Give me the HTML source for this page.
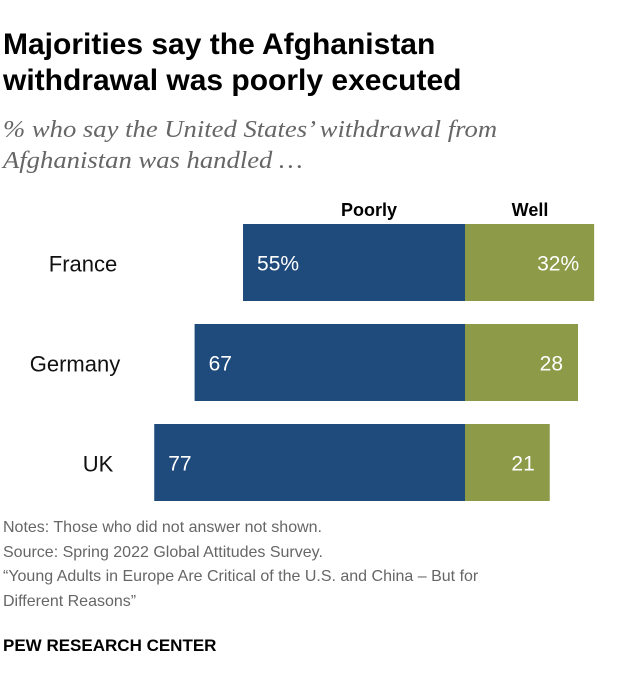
<!DOCTYPE html>
<html><head><meta charset="utf-8"><style>
body{margin:0;background:#fff;font-family:"Liberation Sans",sans-serif;}
#wrap{position:relative;width:620px;height:688px;overflow:hidden;}
.t{position:absolute;white-space:nowrap;}
</style></head><body>
<div id="wrap">
<div class="t" style="left:3px;top:27px;font-size:30px;font-weight:bold;line-height:36px;color:#000;">Majorities say the Afghanistan<br>withdrawal was poorly executed</div>
<div class="t" style="left:3px;top:115px;font-size:24px;font-style:italic;font-family:'Liberation Serif',serif;line-height:31px;color:#666;transform:scaleX(1.11);transform-origin:0 0;">% who say the United States’ withdrawal from<br>Afghanistan was handled …</div>
<svg id="chart" width="620" height="688" style="position:absolute;left:0;top:0"></svg>
<div class="t" style="left:3px;top:516px;font-size:16px;line-height:24.5px;color:#666;">Notes: Those who did not answer not shown.<br>Source: Spring 2022 Global Attitudes Survey.<br>“Young Adults in Europe Are Critical of the U.S. and China – But for<br>Different Reasons”</div>
<div class="t" style="left:3px;top:636px;font-size:17px;font-weight:bold;color:#000;">PEW RESEARCH CENTER</div>
</div>
<script>
const categories=["France","Germany","UK"];
const poorly=[55,67,77];
const well=[32,28,21];
const poorlyLabels=["55%","67","77"];
const wellLabels=["32%","28","21"];
const NS="http://www.w3.org/2000/svg";
const svg=document.getElementById('chart');
const cx=465, scale=4.036, top0=224, step=100, bh=77;
const labelCenters=[83,75,98];
const x=v=>v*scale;
function el(t,a,txt){const e=document.createElementNS(NS,t);for(const k in a)e.setAttribute(k,a[k]);if(txt!==undefined)e.textContent=txt;svg.appendChild(e);return e;}
let h=el('text',{x:369,y:216,'text-anchor':'middle','font-size':18,'font-weight':'bold','font-family':'Liberation Sans'},'Poorly');


h=el('text',{x:530,y:216,'text-anchor':'middle','font-size':18,'font-weight':'bold','font-family':'Liberation Sans'},'Well');


categories.forEach((c,i)=>{
 const y=top0+i*step;
 let r=el('rect',{x:cx-x(poorly[i]),y:y,width:x(poorly[i]),height:bh,fill:'#1f4a7c'});
 
 
 r=el('rect',{x:cx,y:y,width:x(well[i]),height:bh,fill:'#8d9a47'});
 
 
 let t=el('text',{x:cx-x(poorly[i])+14,y:y+bh/2+8,fill:'#fff','font-size':21,'font-family':'Liberation Sans'},poorlyLabels[i]);
 
 
 t=el('text',{x:cx+x(well[i])-15,y:y+bh/2+8,fill:'#fff','text-anchor':'end','font-size':21,'font-family':'Liberation Sans'},wellLabels[i]);
 
 
 t=el('text',{x:labelCenters[i],y:y+bh/2+9,'text-anchor':'middle','font-size':22,fill:'#111','font-family':'Liberation Sans'},c);
 
 
});
</script>
</body></html>
